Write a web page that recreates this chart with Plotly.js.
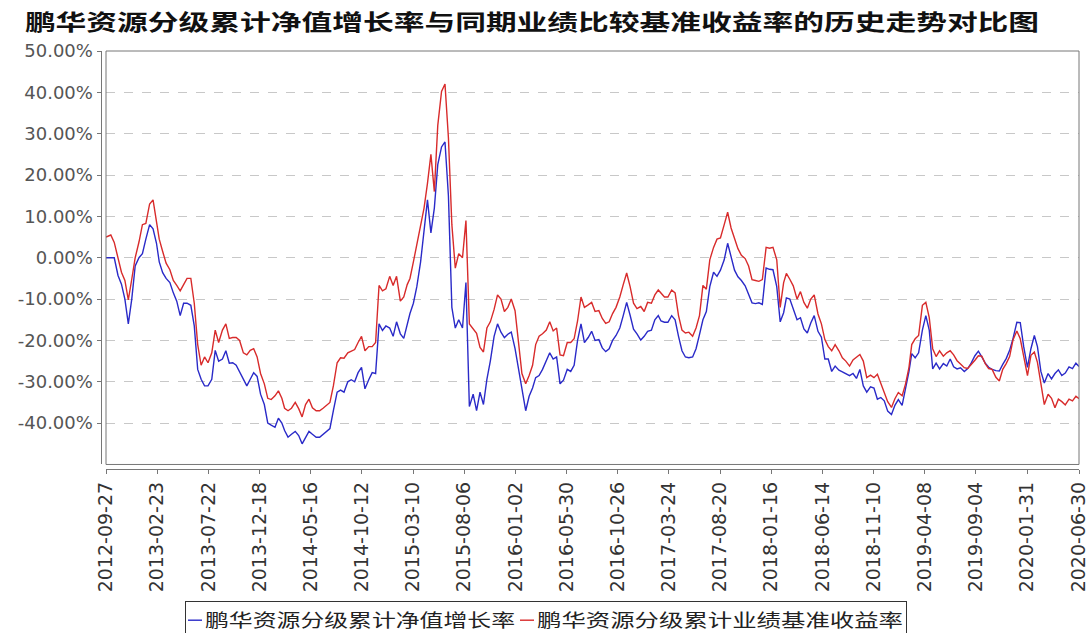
<!DOCTYPE html>
<html>
<head>
<meta charset="utf-8">
<script src="https://cdn.plot.ly/plotly-3.0.1.min.js"></script>
<style>
html,body{margin:0;padding:0;background:#fff;}
#chart{width:1089px;height:633px;}
</style>
</head>
<body>
<div id="chart"></div>
<script>
var chartTitle = "鹏华资源分级累计净值增长率与同期业绩比较基准收益率的历史走势对比图";
var seriesNames = ["鹏华资源分级累计净值增长率", "鹏华资源分级累计业绩基准收益率"];

var dates = ["2012-09-27",
"2012-10-01","2012-10-11","2012-10-21","2012-11-01","2012-11-11","2012-11-21","2012-12-01","2012-12-11","2012-12-21",
"2013-01-01","2013-01-11","2013-01-21","2013-02-01","2013-02-11","2013-02-21","2013-03-01","2013-03-11","2013-03-21",
"2013-04-01","2013-04-11","2013-04-21","2013-05-01","2013-05-11","2013-05-21","2013-06-01","2013-06-11","2013-06-21",
"2013-07-01","2013-07-11","2013-07-21","2013-08-01","2013-08-11","2013-08-21","2013-09-01","2013-09-11","2013-09-21",
"2013-10-01","2013-10-11","2013-10-21","2013-11-01","2013-11-11","2013-11-21","2013-12-01","2013-12-11","2013-12-21",
"2014-01-01","2014-01-11","2014-01-21","2014-02-01","2014-02-11","2014-02-21","2014-03-01","2014-03-11","2014-03-21",
"2014-04-01","2014-04-11","2014-04-21","2014-05-01","2014-05-11","2014-05-21","2014-06-01","2014-06-11","2014-06-21",
"2014-07-01","2014-07-11","2014-07-21","2014-08-01","2014-08-11","2014-08-21","2014-09-01","2014-09-11","2014-09-21",
"2014-10-01","2014-10-11","2014-10-21","2014-11-01","2014-11-11","2014-11-21","2014-12-01","2014-12-11","2014-12-21",
"2015-01-01","2015-01-11","2015-01-21","2015-02-01","2015-02-11","2015-02-21","2015-03-01","2015-03-11","2015-03-21",
"2015-04-01","2015-04-11","2015-04-21","2015-05-01","2015-05-11","2015-05-21","2015-06-01","2015-06-11","2015-06-21",
"2015-07-01","2015-07-11","2015-07-21","2015-08-01","2015-08-11","2015-08-21","2015-09-01","2015-09-11","2015-09-21",
"2015-10-01","2015-10-11","2015-10-21","2015-11-01","2015-11-11","2015-11-21","2015-12-01","2015-12-11","2015-12-21",
"2016-01-01","2016-01-11","2016-01-21","2016-02-01","2016-02-11","2016-02-21","2016-03-01","2016-03-11","2016-03-21",
"2016-04-01","2016-04-11","2016-04-21","2016-05-01","2016-05-11","2016-05-21","2016-06-01","2016-06-11","2016-06-21",
"2016-07-01","2016-07-11","2016-07-21","2016-08-01","2016-08-11","2016-08-21","2016-09-01","2016-09-11","2016-09-21",
"2016-10-01","2016-10-11","2016-10-21","2016-11-01","2016-11-11","2016-11-21","2016-12-01","2016-12-11","2016-12-21",
"2017-01-01","2017-01-11","2017-01-21","2017-02-01","2017-02-11","2017-02-21","2017-03-01","2017-03-11","2017-03-21",
"2017-04-01","2017-04-11","2017-04-21","2017-05-01","2017-05-11","2017-05-21","2017-06-01","2017-06-11","2017-06-21",
"2017-07-01","2017-07-11","2017-07-21","2017-08-01","2017-08-11","2017-08-21","2017-09-01","2017-09-11","2017-09-21",
"2017-10-01","2017-10-11","2017-10-21","2017-11-01","2017-11-11","2017-11-21","2017-12-01","2017-12-11","2017-12-21",
"2018-01-01","2018-01-11","2018-01-21","2018-02-01","2018-02-11","2018-02-21","2018-03-01","2018-03-11","2018-03-21",
"2018-04-01","2018-04-11","2018-04-21","2018-05-01","2018-05-11","2018-05-21","2018-06-01","2018-06-11","2018-06-21",
"2018-07-01","2018-07-11","2018-07-21","2018-08-01","2018-08-11","2018-08-21","2018-09-01","2018-09-11","2018-09-21",
"2018-10-01","2018-10-11","2018-10-21","2018-11-01","2018-11-11","2018-11-21","2018-12-01","2018-12-11","2018-12-21",
"2019-01-01","2019-01-11","2019-01-21","2019-02-01","2019-02-11","2019-02-21","2019-03-01","2019-03-11","2019-03-21",
"2019-04-01","2019-04-11","2019-04-21","2019-05-01","2019-05-11","2019-05-21","2019-06-01","2019-06-11","2019-06-21",
"2019-07-01","2019-07-11","2019-07-21","2019-08-01","2019-08-11","2019-08-21","2019-09-01","2019-09-11","2019-09-21",
"2019-10-01","2019-10-11","2019-10-21","2019-11-01","2019-11-11","2019-11-21","2019-12-01","2019-12-11","2019-12-21",
"2020-01-01","2020-01-11","2020-01-21","2020-02-01","2020-02-11","2020-02-21","2020-03-01","2020-03-11","2020-03-21",
"2020-04-01","2020-04-11","2020-04-21","2020-05-01","2020-05-11","2020-05-21","2020-06-01","2020-06-11","2020-06-21",
"2020-06-30"];

// 累计净值增长率 (%)
var navGrowth = [0,
0,0,0, -4.3,-6.4,-10, -16,-10,-2,
0,1,4.5, 8,7,3.5, -1,-3.6,-5,
-6,-8.5,-10.5, -14,-11,-11, -11.5,-16.5,-27,
-29.4,-31,-31, -29.4,-22.4,-25, -24.5,-22.5,-25.5,
-25.4,-26,-27.5, -29.4,-31,-29.4, -27.8,-28.7,-33,
-35.5,-40,-40.5, -41,-38.8,-40, -41.8,-43.4,-42.7,
-42,-43,-45, -43.5,-42,-42.7, -43.4,-43.4,-42.7,
-42,-41.3,-37, -32.5,-32,-32.5, -30,-29.5,-30,
-27.8,-26.5,-31.7, -29.5,-27.8,-28, -16,-17.6,-16.5,
-17,-19,-15.5, -18.4,-19.5,-16, -13.5,-11,-7,
-1,7,14, 6,12,22.5, 26.8,28,15,
-12,-17,-15, -17,-6,-36, -33,-37,-32.5,
-35.5,-29.4,-25, -19,-16,-18, -19.3,-18.5,-18,
-22,-27,-31.5, -37,-33.5,-31.5, -29,-28.5,-27,
-25,-23,-24.5, -24,-30.5,-29.6, -27,-27.5,-26,
-20,-16,-20.5, -19.3,-17.8,-20, -19.8,-21.8,-22.7,
-22,-20,-18.8, -17,-14,-10.8, -13.9,-17.3,-18.4,
-19.9,-19,-17.8, -17.5,-15,-14, -15.3,-15.6,-15.6,
-14,-15,-19, -22.5,-24,-24.2, -24,-22,-18.6,
-15,-13,-7, -3.5,-4.5,-3, -0.5,3.5,0,
-3,-4.6,-5.5, -6.8,-9,-10.9, -11.1,-10.9,-11.3,
-2.5,-2.8,-2.9, -7,-15.5,-13.3, -9.7,-10,-12.3,
-15,-14.5,-17.2, -18.2,-15.8,-14, -17.8,-19.2,-24.5,
-24.5,-27.5,-26.2, -27.2,-27.6,-28, -28.5,-28,-29.2,
-27,-31,-32.5, -31.2,-31.5,-34.2, -33.8,-34.6,-37.1,
-37.9,-35.7,-34.3, -35.7,-32,-27.5, -23.2,-24.2,-23,
-17.5,-14,-17.5, -26.9,-25.5,-26.9, -25.6,-26.2,-24.5,
-26.4,-26.9,-26.6, -27.5,-26.8,-25.5, -23.7,-22.6,-24,
-25.5,-26.5,-27, -27.3,-27.4,-25.8, -24.4,-22.4,-19.5,
-15.6,-15.7,-21.5, -26.5,-22,-18.8, -21.5,-27.5,-30.3,
-28,-29.3,-28, -27.1,-28.5,-27.9, -26.4,-26.8,-25.5,
-26.3];

// 累计业绩基准收益率 (%)
var benchReturn = [5.0,
5.2,5.5,3.7, -0.5,-3.5,-5.5, -10.2,-5.2,0,
3.8,8,8.3, 13,14,8, 4.5,1.5,-1.3,
-2.9,-5.5,-6.7, -8,-6.5,-5, -5,-11,-21,
-26,-24,-25.4, -23,-17.5,-20.5, -17.5,-16,-19.5,
-19.3,-19.3,-20, -23,-23.5,-22.4, -22,-24,-28,
-30.5,-34,-34.3, -33.4,-32.2,-34, -36.4,-37,-36.4,
-35,-36.5,-38.5, -35.5,-34.2,-36.3, -37,-37,-36.4,
-35.8,-35,-31, -25.4,-24.2,-24.3, -23,-22.6,-22.2,
-20.5,-19,-22.5, -21.5,-21.5,-20.5, -6.7,-8,-7.5,
-4.5,-6.7,-4.5, -10.5,-9.5,-6.5, -5,-1,3,
8,12,18, 25,16,32, 40.2,42,29,
8,-2.5,1, 0,9,-16, -17.2,-18.3,-21.7,
-22.8,-17,-15.5, -12.5,-9,-10, -13,-12,-10,
-12.8,-21,-28, -30.5,-28.5,-26, -21,-19,-18.4,
-17.5,-15.5,-17.7, -17,-23.5,-23.7, -20.5,-20.5,-19.6,
-15.3,-9.5,-12, -11.4,-10.8,-13, -12.8,-14.7,-15.9,
-15.5,-13.5,-12, -9.5,-6.5,-3.7, -7,-11,-12.3,
-11.8,-13,-10.8, -11,-9,-7.8, -8.6,-9.5,-9.5,
-7.8,-8.5,-14, -17.5,-18.2,-18, -19,-17,-14,
-6.7,-7.6,-0.5, 2.5,4.5,4.8, 8,11,7.2,
4.5,2.2,0.6, -0.2,-2,-5.3, -5.5,-5.7,-5.3,
2.5,2.3,2.5, -0.5,-12,-6, -3.8,-5.2,-6.8,
-10,-8.2,-10.8, -12.2,-10,-9, -13.6,-16,-19.8,
-21.5,-22.5,-21, -22.5,-24.2,-25, -26.2,-24.7,-24.1,
-23.4,-25,-29, -28.4,-29,-28.2, -30.5,-32.3,-34.8,
-36.2,-34.1,-32.6, -33.4,-30.5,-26.5, -21,-19.6,-18.8,
-11.5,-10.8,-14.5, -22,-23.9,-22.5, -23.8,-23,-22.5,
-23.5,-24.9,-25.7, -26.6,-26.8,-25.9, -24.8,-23.7,-23.8,
-25.6,-26.8,-27, -28.9,-29.8,-27, -25.6,-23.9,-19.8,
-17.7,-19.6,-23.5, -28.5,-23.6,-22.8, -25.3,-30,-35.5,
-33,-34,-36.3, -34.2,-34.8,-35.6, -34.2,-34.6,-33.5,
-34.1];

var xTickVals = ["2012-09-27","2013-02-23","2013-07-22","2013-12-18","2014-05-16","2014-10-12",
"2015-03-10","2015-08-06","2016-01-02","2016-05-30","2016-10-26","2017-03-24","2017-08-20",
"2018-01-16","2018-06-14","2018-11-10","2019-04-08","2019-09-04","2020-01-31","2020-06-30"];
var yTickVals = [-40,-30,-20,-10,0,10,20,30,40,50];
var yTickText = ["-40.00%","-30.00%","-20.00%","-10.00%","0.00%","10.00%","20.00%","30.00%","40.00%","50.00%"];

var traces = [
  {x: dates, y: navGrowth, type: "scatter", mode: "lines", name: seriesNames[0],
   line: {color: "#2a2ac8", width: 1.4}},
  {x: dates, y: benchReturn, type: "scatter", mode: "lines", name: seriesNames[1],
   line: {color: "#d82b2b", width: 1.4}}
];

var ML = 90, MR = 10, MT = 51, MB = 140;
var PW = 1089 - ML - MR, PH = 633 - MT - MB;

var layout = {
  width: 1089, height: 633,
  margin: {l: ML, r: MR, t: MT, b: MB},
  paper_bgcolor: "#ffffff", plot_bgcolor: "#ffffff",
  title: {text: chartTitle, x: 532/1089, xref: "container", xanchor: "center",
          y: 1 - 22/633, yref: "container", yanchor: "middle",
          font: {family: "Noto Sans CJK SC", size: 22, weight: "bold", color: "#111"}},
  xaxis: {
    type: "date", domain: [(106 - ML)/PW, 1], anchor: "free", position: (633 - MB - 483)/PH,
    range: ["2012-09-27", "2020-06-30"],
    tickmode: "array", tickvals: xTickVals, ticktext: xTickVals, tickangle: -90,
    tickfont: {family: "DejaVu Sans", size: 19, color: "#333"},
    ticklabeloverflow: "allow",
    showline: true, linecolor: "#777", linewidth: 1,
    ticks: "outside", ticklen: 4, tickcolor: "#777",
    showgrid: false, zeroline: false
  },
  yaxis: {
    domain: [(633 - MB - 478)/PH, 1], anchor: "free", position: (100.5 - ML)/PW,
    range: [-50, 50],
    tickmode: "array", tickvals: yTickVals, ticktext: yTickText,
    tickfont: {family: "DejaVu Sans", size: 18, color: "#555"},
    showline: true, linecolor: "#777", linewidth: 1,
    ticks: "outside", ticklen: 4, tickcolor: "#777",
    showgrid: true, gridcolor: "#c8c8c8", griddash: "dash", gridwidth: 1,
    zeroline: false
  },
  shapes: [
    {type: "rect", xref: "x domain", yref: "y domain", x0: 0, x1: 1, y0: 0, y1: 1,
     line: {color: "#777", width: 1}, fillcolor: "rgba(0,0,0,0)", layer: "above"}
  ],
  showlegend: true,
  legend: {
    orientation: "h", x: (545 - ML)/PW, xanchor: "center", y: (633 - MB - 601)/PH, yanchor: "top",
    bordercolor: "#333", borderwidth: 1, bgcolor: "#fff",
    font: {family: "Noto Sans CJK SC", size: 18, color: "#222"},
    entrywidth: 315, itemwidth: 30
  }
};

Plotly.newPlot("chart", traces, layout, {displayModeBar: false}).then(function (gd) {
  // widen the title horizontally (scale about its centre) like the reference's wide glyphs
  try {
    var t = gd.querySelector(".gtitle");
    if (t) {
      var bb = t.getBBox();
      if (bb.width > 0) {
        var s = 1015 / bb.width;
        var cx = bb.x + bb.width / 2;
        t.setAttribute("transform", "translate(532,0) scale(" + s + ",1) translate(" + (-cx) + ",0)");
      }
    }
  } catch (e) {}
  // legend: short line samples, wide text, boxed like the reference
  try {
    var lg = gd.querySelector("g.legend");
    if (lg) {
      lg.setAttribute("transform", "translate(185,601)");
      var bg = lg.querySelector("rect.bg");
      if (bg) bg.setAttribute("width", 721);
      var clips = gd.querySelectorAll("clipPath[id*='legend'] rect");
      clips.forEach(function (c) { c.setAttribute("width", 721); });
      var items = lg.querySelectorAll("g.traces");
      var X = [0, 332], W = [310, 366];
      items.forEach(function (it, i) {
        var m = /translate\(\s*([-\d.e]+)[\s,]+([-\d.e]+)\s*\)/.exec(it.getAttribute("transform") || "");
        var y = m ? m[2] : 17;
        it.setAttribute("transform", "translate(" + X[i] + "," + y + ")");
        var p = it.querySelector(".legendlines path");
        if (p) p.setAttribute("d", "M3,0h14");
        var tx = it.querySelector("text.legendtext");
        if (tx) {
          tx.setAttribute("x", 20);
          tx.setAttribute("textLength", W[i]);
          tx.setAttribute("lengthAdjust", "spacingAndGlyphs");
        }
      });
    }
  } catch (e) {}
});
</script>
</body>
</html>
